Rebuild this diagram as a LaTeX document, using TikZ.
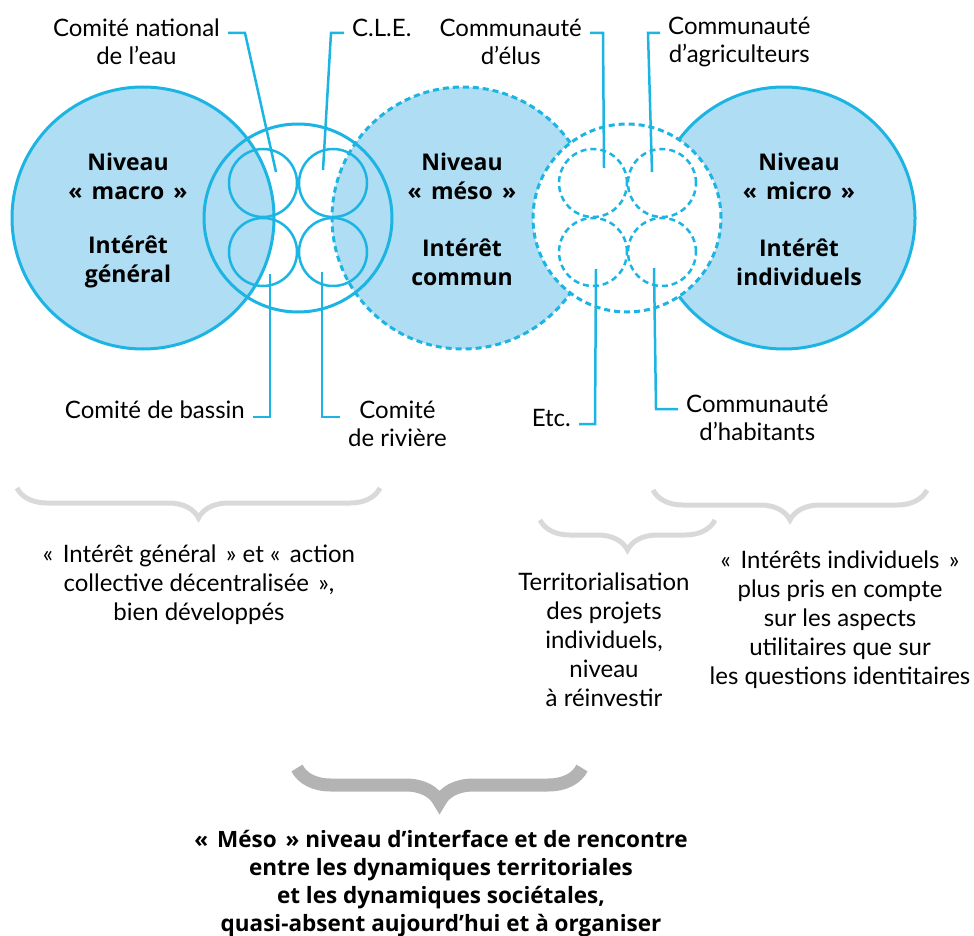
\documentclass[tikz,border=0pt]{standalone}
\usepackage{fontspec}
\setmainfont{Lato}
\newfontfamily\heavyFace{Open Sans}
\usepackage{tikz}
\usetikzlibrary{positioning,calc}
\usetikzlibrary{decorations.pathreplacing}
\definecolor{waterBlue}{HTML}{1CB4E3}
\definecolor{paleBlue}{HTML}{AFDDF3}
\definecolor{braceGray}{HTML}{D9D9D9}
\definecolor{braceDark}{HTML}{B3B3B3}
\newcommand{\gsp}{\hspace{.4em}}

\begin{document}
\begin{tikzpicture}[x=1pt,y=-1pt,every text node part/.style={align=center}]
\tikzset{myFont/.style={font=\fontsize{24}{28}\selectfont}}
\tikzset{noteFont/.style={font=\fontsize{24}{29}\selectfont}}
\tikzset{myBold/.style={font=\fontsize{23}{29}\heavyFace\bfseries}}
\tikzset{bigCircle/.style={draw=waterBlue,fill=paleBlue,circle,line width=3pt,minimum size=262pt,inner sep=0pt}}
\tikzset{midCircle/.style={draw=waterBlue,circle,line width=3pt,minimum size=188pt,inner sep=0pt}}
\tikzset{smallCircle/.style={draw=waterBlue,circle,line width=2.5pt,minimum size=68pt,inner sep=0pt}}
\tikzset{dashLine/.style={dash pattern=on 6pt off 4pt}}
\tikzset{myLabel/.style={myFont,inner xsep=8pt,inner ysep=0pt}}
\tikzset{leader/.style={draw=waterBlue,line width=2.5pt}}
\tikzset{braceLine/.style={draw=braceGray,line width=5pt,decorate,decoration={brace,mirror,amplitude=30pt}}}

\useasboundingbox (0,0) rectangle (974,936);

% the three levels
\node[bigCircle] (macro) at (143,218) {};
\node[bigCircle,dashLine] (meso) at (463,218) {};
\node[bigCircle] (micro) at (784,218) {};

% institutions (left) and communities (right)
\node[midCircle] (groupL) at (298,218) {};
\node[midCircle,dashLine,fill=white] (groupR) at (627,218) {};
\node[smallCircle] (sCne) at (263,183) {};
\node[smallCircle] (sCle) at (333,183) {};
\node[smallCircle] (sBassin) at (263,252) {};
\node[smallCircle] (sRiviere) at (333,252) {};
\node[smallCircle,dashLine] (sElus) at (593,183) {};
\node[smallCircle,dashLine] (sAgri) at (662,183) {};
\node[smallCircle,dashLine] (sEtc) at (593,252) {};
\node[smallCircle,dashLine] (sHab) at (662,252) {};

\node[myBold] (macroLvl) at (128,176) {Niveau\\«\gsp macro\gsp»};
\node[myBold] (macroInt) at (128,262) {Intérêt\\général};
\node[myBold] (mesoLvl) at (462,176) {Niveau\\«\gsp méso\gsp»};
\node[myBold] (mesoInt) at (462,262) {Intérêt\\commun};
\node[myBold] (microLvl) at (799,176) {Niveau\\«\gsp micro\gsp»};
\node[myBold] (microInt) at (799,262) {Intérêt\\individuels};

% labels and leaders
\node[myLabel,anchor=east] (cne) at (228,42) {Comité national\\de l’eau};
\node[myLabel,anchor=west] (cle) at (344,28) {C.L.E.};
\node[myLabel,anchor=east] (elus) at (590,42) {Communauté\\d’élus};
\node[myLabel,anchor=west] (agri) at (660,42) {Communauté\\d’agriculteurs};
\node[myLabel,anchor=east] (bassin) at (253,410) {Comité de bassin};
\node[myLabel,anchor=west] (riviere) at (340,424) {Comité\\de rivière};
\node[myLabel,anchor=east] (etc) at (579,418) {Etc.};
\node[myLabel,anchor=west] (habitants) at (678,418) {Communauté\\d’habitants};

\coordinate (cneEnd) at (276,172);
\coordinate (cleEnd) at (323,170);
\coordinate (elusEnd) at (604,168);
\coordinate (agriEnd) at (652,172);
\coordinate (bassinEnd) at (270,274);
\coordinate (riviereEnd) at (322,272);
\coordinate (etcEnd) at (596,269);
\coordinate (habEnd) at (654,268);

\path[leader] ([yshift=9pt]cne.east) -- ++(17,0) -- (cneEnd);
\path[leader] ([yshift=-5pt]cle.west) -- ++(-13,0) -- (cleEnd);
\path[leader] ([yshift=9pt]elus.east) -- ++(13,0) -- (elusEnd);
\path[leader] ([yshift=9pt]agri.west) -- ++(-12,0) -- (agriEnd);
\path[leader] ([yshift=-7pt]bassin.east) -- ++(17,0) -- (bassinEnd);
\path[leader] ([yshift=7pt]riviere.west) -- ++(-18,0) -- (riviereEnd);
\path[leader] ([yshift=-6pt]etc.east) -- ++(16,0) -- (etcEnd);
\path[leader] ([yshift=9pt]habitants.west) -- ++(-22,0) -- (habEnd);

% braces and notes
\draw[braceLine] (17,488) -- (380,488);
\draw[braceLine] (540,520) -- (715,520);
\draw[braceLine] (653,490) -- (927,490);
\draw[braceLine,draw=braceDark,line width=13pt,decoration={amplitude=34pt}] (297,768) -- (582,768);

\node[noteFont] (noteMacro) at (199,585) {«\gsp Intérêt général\gsp» et «\gsp action\\collective décentralisée\gsp»,\\bien développés};
\node[noteFont] (noteTerr) at (604,640) {Territorialisation\\des projets\\individuels,\\niveau\\à réinvestir};
\node[noteFont] (noteMicro) at (840,620) {«\gsp Intérêts individuels\gsp»\\plus pris en compte\\sur les aspects\\utilitaires que sur\\les questions identitaires};
\node[myBold,font=\fontsize{22.5}{28}\heavyFace\bfseries] (noteMeso) at (441,884) {«\gsp Méso\gsp» niveau d’interface et de rencontre\\entre les dynamiques territoriales\\et les dynamiques sociétales,\\quasi-absent aujourd’hui et à organiser};
\end{tikzpicture}
\end{document}
